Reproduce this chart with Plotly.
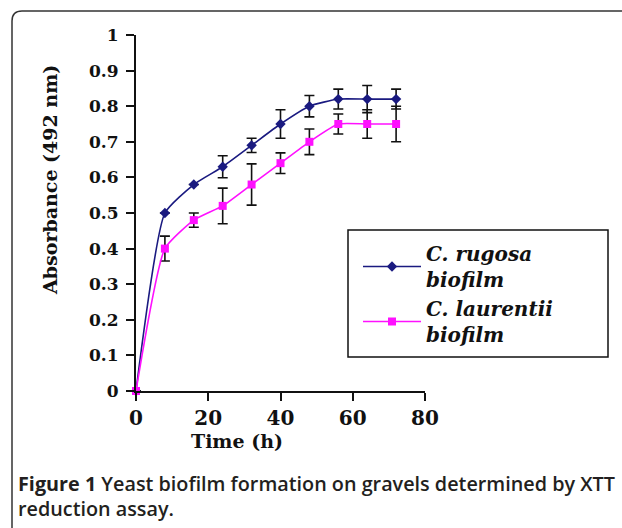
import plotly.graph_objects as go

# ---- data ----
time_h = [0, 8, 16, 24, 32, 40, 48, 56, 64, 72]
rugosa = [0.0, 0.50, 0.58, 0.63, 0.69, 0.75, 0.80, 0.82, 0.82, 0.82]
rugosa_err = [0.0, 0.0, 0.0, 0.031, 0.02, 0.04, 0.03, 0.028, 0.038, 0.028]
laurentii = [0.0, 0.40, 0.48, 0.52, 0.58, 0.64, 0.70, 0.75, 0.75, 0.75]
laurentii_err = [0.0, 0.035, 0.02, 0.05, 0.058, 0.029, 0.036, 0.028, 0.04, 0.05]
y_tickvals = [0, 0.1, 0.2, 0.3, 0.4, 0.5, 0.6, 0.7, 0.8, 0.9, 1.0]
y_ticktext = ["0", "0.1", "0.2", "0.3", "0.4", "0.5", "0.6", "0.7", "0.8", "0.9", "1"]
x_tickvals = [0, 20, 40, 60, 80]
x_ticktext = ["0", "20", "40", "60", "80"]

W, H = 622, 528
L, R, T, B = 136, 425, 35, 391


def px2x(px):
    return (px - L) / (R - L)


def px2y(py):
    return 1 - (py - T) / (B - T)


SERIF = "DejaVu Serif"

fig = go.Figure()
fig.add_trace(go.Scatter(
    x=time_h, y=rugosa, name="C. rugosa<br>biofilm",
    mode="lines+markers",
    line=dict(color="#1a1a80", width=1.6, shape="spline", smoothing=0.5),
    marker=dict(symbol="diamond", size=8, color="#1a1a80"),
    error_y=dict(type="data", array=rugosa_err, visible=True,
                 color="#111111", thickness=1.6, width=5),
    cliponaxis=False,
))
fig.add_trace(go.Scatter(
    x=time_h, y=laurentii, name="C. laurentii<br>biofilm",
    mode="lines+markers",
    line=dict(color="#ff10ff", width=1.6, shape="spline", smoothing=0.5),
    marker=dict(symbol="square", size=8, color="#ff10ff"),
    error_y=dict(type="data", array=laurentii_err, visible=True,
                 color="#111111", thickness=1.6, width=5),
    cliponaxis=False,
))

fig.update_layout(
    width=W, height=H,
    margin=dict(l=L, r=W - R, t=T, b=H - B),
    plot_bgcolor="white", paper_bgcolor="white",
    showlegend=True,
    legend=dict(
        x=px2x(358), y=px2y(234), xanchor="left", yanchor="top",
        borderwidth=0, bgcolor="rgba(0,0,0,0)",
        font=dict(family=SERIF, size=20, color="#111111", style="italic", weight="bold"),
        tracegroupgap=0, itemwidth=58,
    ),
    xaxis=dict(
        range=[0, 80], tickvals=x_tickvals, ticktext=x_ticktext,
        showgrid=False, zeroline=False, showline=True, linecolor="#111111", linewidth=2,
        ticks="outside", ticklen=8, tickwidth=2, tickcolor="#111111",
        tickfont=dict(family=SERIF, size=20, color="#111111", weight="bold"),
    ),
    yaxis=dict(
        range=[0, 1], tickvals=y_tickvals, ticktext=y_ticktext,
        showgrid=False, zeroline=False, showline=True, linecolor="#111111", linewidth=2,
        ticks="outside", ticklen=8, tickwidth=2, tickcolor="#111111",
        tickfont=dict(family=SERIF, size=17, color="#111111", weight="bold"),
        ticklabelstandoff=4,
    ),
    annotations=[
        dict(text="Time (h)", xref="paper", yref="paper", x=px2x(237), y=px2y(441),
             xanchor="center", yanchor="middle", showarrow=False,
             font=dict(family=SERIF, size=19, color="#111111", weight="bold")),
        dict(text="Absorbance (492 nm)", xref="paper", yref="paper", x=px2x(50), y=px2y(180),
             xanchor="center", yanchor="middle", showarrow=False, textangle=-90,
             font=dict(family=SERIF, size=19, color="#111111", weight="bold")),
        dict(text="<b>Figure 1</b> Yeast biofilm formation on gravels determined by XTT",
             xref="paper", yref="paper", x=px2x(16), y=px2y(483),
             xanchor="left", yanchor="middle", showarrow=False,
             font=dict(family="Open Sans", size=19.8, color="#231f20", weight=600)),
        dict(text="reduction assay.",
             xref="paper", yref="paper", x=px2x(16), y=px2y(508),
             xanchor="left", yanchor="middle", showarrow=False,
             font=dict(family="Open Sans", size=19.8, color="#231f20", weight=600)),
    ],
    shapes=[
        dict(type="path", xref="paper", yref="paper",
             path=(f"M {px2x(12)} {px2y(535)} L {px2x(12)} {px2y(21)} "
                   f"Q {px2x(12)} {px2y(11)} {px2x(22)} {px2y(11)} L {px2x(630)} {px2y(11)}"),
             line=dict(color="#333333", width=1.5)),
        dict(type="rect", xref="paper", yref="paper",
             x0=px2x(348), x1=px2x(608), y0=px2y(230), y1=px2y(357),
             line=dict(color="#111111", width=1.5), fillcolor="white", layer="below"),
    ],
)

fig.write_html("out.html", config={"displayModeBar": False},
               post_script="document.body.style.margin='0';")
